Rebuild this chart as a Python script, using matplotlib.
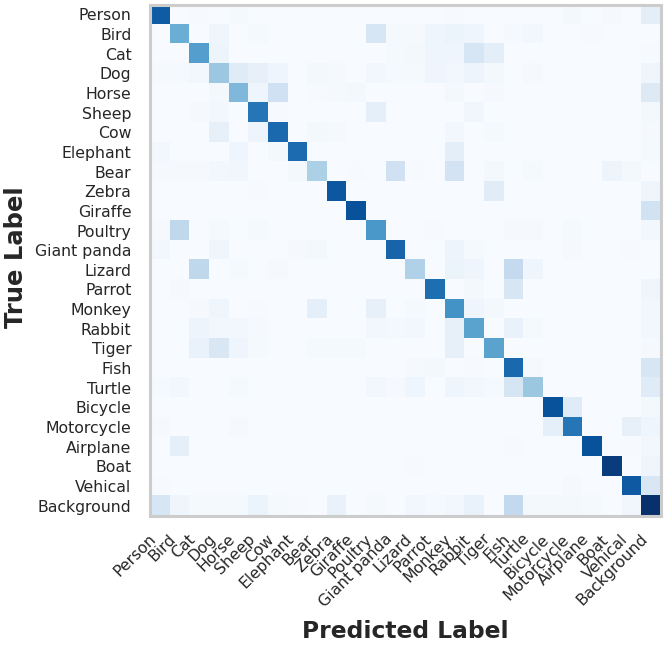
import matplotlib
matplotlib.use('Agg')
import matplotlib.pyplot as plt
import numpy as np

labels = ['Person', 'Bird', 'Cat', 'Dog', 'Horse', 'Sheep', 'Cow', 'Elephant', 'Bear', 'Zebra',
          'Giraffe', 'Poultry', 'Giant panda', 'Lizard', 'Parrot', 'Monkey', 'Rabbit', 'Tiger',
          'Fish', 'Turtle', 'Bicycle', 'Motorcycle', 'Airplane', 'Boat', 'Vehical', 'Background']

# one row per true label, value per predicted label
cm = [
    [.83, 0, .005, 0, .015, 0, 0, 0, 0, 0, 0, 0, 0, 0, 0, .005, 0, 0, 0, 0, 0, .02, 0, .01, 0, .10],
    [0, .50, 0, .04, 0, .015, 0, 0, 0, 0, 0, .16, .015, .01, .04, .06, .04, 0, .01, .025, 0, 0, .005, 0, 0, 0],
    [0, 0, .57, .05, 0, 0, 0, 0, 0, 0, 0, 0, .015, .02, .04, .04, .16, .10, 0, 0, 0, 0, 0, 0, 0, .005],
    [.01, .015, .03, .38, .12, .08, .045, 0, .02, .01, 0, .025, .015, .015, .04, .025, .05, .02, 0, .01, 0, 0, 0, 0, 0, .04],
    [0, 0, 0, .02, .45, .04, .20, 0, .005, .01, .02, 0, 0, 0, 0, .02, 0, .01, 0, 0, 0, 0, 0, 0, 0, .13],
    [0, 0, .01, .03, 0, .73, .005, 0, 0, 0, 0, .09, 0, 0, 0, 0, .035, 0, 0, 0, 0, 0, 0, 0, 0, .02],
    [0, 0, 0, .08, 0, .05, .78, 0, .02, .01, 0, 0, 0, 0, 0, .03, 0, .015, 0, 0, 0, 0, 0, 0, 0, .01],
    [.03, 0, 0, 0, .04, 0, .02, .77, 0, 0, 0, 0, 0, 0, 0, .10, 0, 0, 0, 0, 0, 0, 0, 0, 0, .015],
    [.01, .01, .01, .03, .035, 0, 0, .02, .33, 0, .005, 0, .20, .005, 0, .18, 0, .02, 0, .015, 0, 0, 0, .05, .02, 0],
    [0, 0, 0, 0, 0, .005, 0, 0, 0, .85, 0, 0, 0, 0, 0, 0, 0, .11, 0, 0, 0, 0, 0, 0, 0, .04],
    [0, 0, 0, 0, 0, 0, 0, 0, 0, 0, .87, 0, 0, 0, 0, 0, 0, 0, 0, 0, 0, 0, 0, 0, 0, .19],
    [.01, .27, 0, .015, 0, .015, 0, 0, 0, 0, 0, .60, 0, 0, .005, 0, 0, 0, .01, .01, 0, .015, 0, 0, 0, .03],
    [.03, 0, 0, .04, 0, 0, 0, .01, .02, 0, 0, 0, .80, 0, 0, .05, .015, 0, 0, 0, 0, .01, 0, 0, .005, 0],
    [0, 0, .27, 0, .015, 0, .01, 0, 0, 0, 0, 0, 0, .32, 0, .06, .04, 0, .25, .04, 0, 0, 0, 0, 0, 0],
    [0, .01, 0, 0, 0, 0, 0, 0, 0, 0, 0, 0, 0, 0, .76, 0, .02, 0, .16, 0, 0, 0, 0, 0, 0, .04],
    [0, 0, .01, .04, 0, .005, 0, 0, .09, 0, 0, .08, 0, .015, 0, .62, .04, .02, 0, 0, 0, 0, 0, 0, 0, .025],
    [0, 0, .05, .025, .025, .01, 0, 0, 0, 0, 0, .025, .02, .025, 0, .08, .55, 0, .07, .015, 0, 0, 0, 0, 0, .025],
    [0, 0, .07, .15, .04, .015, 0, 0, .015, .015, .015, 0, 0, 0, 0, .08, 0, .55, 0, 0, 0, 0, 0, 0, 0, .01],
    [0, 0, 0, 0, 0, 0, 0, 0, 0, 0, 0, 0, 0, .01, .02, 0, .005, 0, .78, .01, 0, 0, 0, 0, 0, .16],
    [.015, .025, 0, 0, .015, 0, 0, 0, 0, 0, 0, .025, .01, .04, 0, .04, .03, .015, .17, .38, 0, 0, 0, 0, 0, .12],
    [0, 0, 0, 0, 0, 0, 0, 0, 0, 0, 0, 0, 0, 0, 0, 0, 0, 0, 0, 0, .87, .12, 0, 0, 0, .02],
    [.01, 0, 0, 0, .01, 0, 0, 0, 0, 0, 0, 0, 0, 0, 0, 0, 0, 0, 0, 0, .09, .73, 0, 0, .08, .04],
    [0, .09, 0, 0, 0, 0, 0, 0, 0, 0, 0, 0, 0, 0, 0, 0, 0, 0, .005, 0, 0, 0, .87, 0, .005, .03],
    [0, 0, 0, 0, 0, 0, 0, 0, 0, 0, 0, 0, 0, .005, 0, 0, 0, 0, 0, 0, 0, 0, 0, .95, 0, .04],
    [.005, 0, 0, 0, 0, 0, 0, 0, 0, 0, 0, 0, 0, 0, 0, 0, 0, 0, 0, 0, 0, .01, 0, 0, .84, .15],
    [.16, .04, .015, .012, .015, .06, .012, .005, 0, .07, 0, .015, 0, .025, .015, .025, .07, 0, .26, .02, .02, .02, .015, 0, .035, 1.0],
]
cm = np.array(cm)

fig = plt.figure(figsize=(6.64, 6.47), dpi=100)
ax = fig.add_axes([149.5 / 664, 1 - 515.5 / 647, 511 / 664, 511 / 647])
ax.imshow(cm, cmap='Blues', vmin=0, vmax=1, interpolation='nearest', aspect='auto')

ax.set_xticks(range(len(labels)))
ax.set_yticks(range(len(labels)))
ax.set_xticklabels(labels, rotation=45, ha='right', fontsize=11.3, color='#262626')
ax.set_yticklabels(labels, fontsize=11.3, color='#262626')
ax.tick_params(axis='x', length=0, pad=11.5)
ax.tick_params(axis='y', length=0, pad=13)
ax.set_xlabel('Predicted Label', fontsize=16.8, fontweight='bold', color='#262626', labelpad=7)
ax.set_ylabel('True Label', fontsize=17.5, fontweight='bold', color='#262626', labelpad=5, y=0.505)

for s in ax.spines.values():
    s.set_color('#cccccc')
    s.set_linewidth(2.2)

fig.savefig('out.png', dpi=100)
